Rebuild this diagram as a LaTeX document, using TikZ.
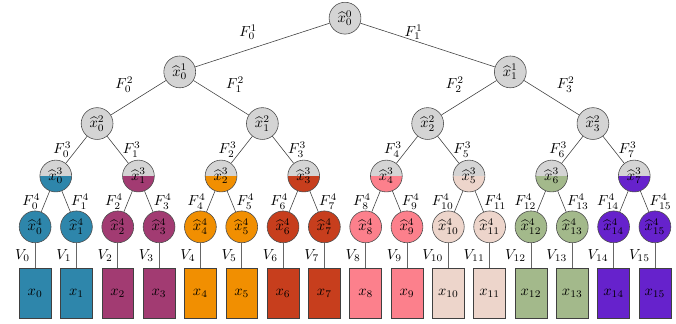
\documentclass[tikz,border=0pt]{standalone}
\usepackage{amssymb,amsmath}
\usepackage{tikz}
\usetikzlibrary{calc}
\definecolor{c0}{HTML}{2E86AB}
\definecolor{c1}{HTML}{A23B72}
\definecolor{c2}{HTML}{F18F01}
\definecolor{c3}{HTML}{C73E1D}
\definecolor{c4}{HTML}{FC808C}
\definecolor{c5}{HTML}{EDD5CB}
\definecolor{c6}{HTML}{A3B98B}
\definecolor{c7}{HTML}{6622CC}

\begin{document}
\begin{tikzpicture} [line width=0.4pt,
    est/.style={circle, draw=black!70, fill=black!17, minimum size=7.7mm, inner sep=0pt},
    leaf/.style={est, fill=#1},
    half/.style={est, path picture={\fill[#1] (path picture bounding box.west) rectangle (path picture bounding box.south east);}},
    obs/.style={rectangle, draw=black!75, fill=#1, minimum width=7.7mm, minimum height=12.1mm, inner sep=0pt},
    edge/.style={draw=black!75}]
  \useasboundingbox (0,0) rectangle (16.36,-7.84);

  % tree of estimates
  \node[est] (n0-0) at (8.35,-0.44) {$\widehat{x}_0^0$};
  \foreach \i in {0,1}
    \node[est] (n1-\i) at (4.35+8*\i,-1.74) {$\widehat{x}_{\i}^1$};
  \foreach \i in {0,...,3}
    \node[est] (n2-\i) at (2.35+4*\i,-2.99) {$\widehat{x}_{\i}^2$};
  \foreach \i in {0,...,7}
    \node[half=c\i] (n3-\i) at (1.35+2*\i,-4.26) {$\widehat{x}_{\i}^3$};

  % leaves and observations
  \foreach \i [evaluate=\i as \g using int(\i/2)] in {0,...,15} {
    \node[leaf=c\g] (n4-\i) at (0.85+\i,-5.49) {$\widehat{x}_{\i}^4$};
    \node[obs=c\g] (x\i) at (0.85+\i,-7.09) {$x_{\i}$};
    \draw[draw=black!60] (n4-\i) -- (x\i) node[midway, left] {$V_{\i}$};
  }

  \draw[edge] (n0-0) -- (n1-0) node[midway, above left] {$F_0^1$};
  \draw[edge] (n0-0) -- (n1-1) node[midway, above left] {$F_1^1$};
  \foreach \p [evaluate=\p as \a using int(2*\p), evaluate=\p as \b using int(2*\p+1)] in {0,1} {
    \draw[edge] (n1-\p) -- (n2-\a) node[midway, above left] {$F_{\a}^2$};
    \draw[edge] (n1-\p) -- (n2-\b) node[midway, above right] {$F_{\b}^2$};
  }
  \foreach \p [evaluate=\p as \a using int(2*\p), evaluate=\p as \b using int(2*\p+1)] in {0,...,3} {
    \draw[edge] (n2-\p) -- (n3-\a) node[midway, left] {$F_{\a}^3$};
    \draw[edge] (n2-\p) -- (n3-\b) node[midway, right] {$F_{\b}^3$};
  }
  \foreach \p [evaluate=\p as \a using int(2*\p), evaluate=\p as \b using int(2*\p+1)] in {0,...,7} {
    \draw[edge] (n3-\p) -- (n4-\a) node[midway, left] {$F_{\a}^4$};
    \draw[edge] (n3-\p) -- (n4-\b) node[midway, right] {$F_{\b}^4$};
  }
\end{tikzpicture}
\end{document}
